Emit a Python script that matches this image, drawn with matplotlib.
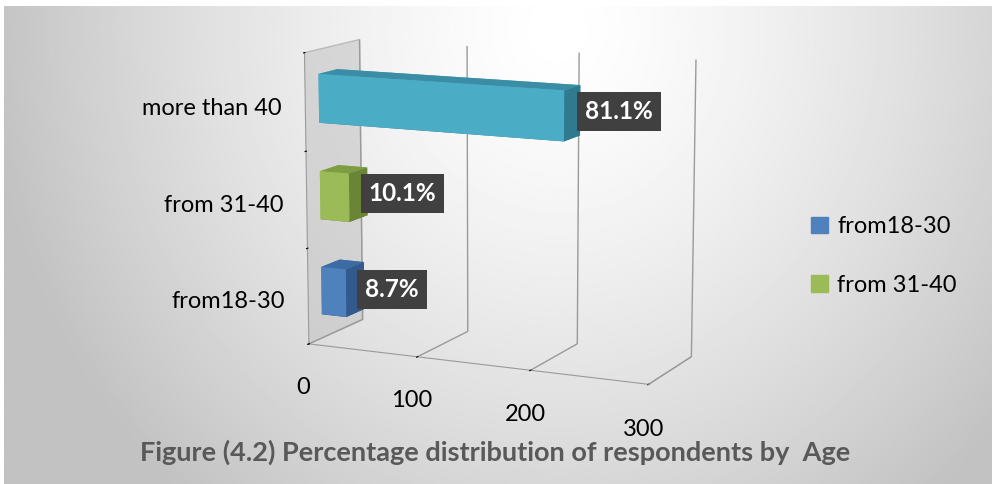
import numpy as np
import matplotlib.pyplot as plt
from matplotlib.patches import Patch
from mpl_toolkits.mplot3d import proj3d

# data
categories = ['from18-30', 'from 31-40', 'more than 40']
counts = [23, 27, 218]
pct_labels = ['8.7%', '10.1%', '81.1%']
legend_names = ['from18-30', 'from 31-40']
x_ticks = [0, 100, 200, 300]

# excel-like colours: (front, top, side)
colors = [('#4F81BD', '#3D6BA3', '#335A8C'),
          ('#9BBB59', '#7E9C41', '#6A8535'),
          ('#4BACC6', '#3A8DA5', '#2F7A8E')]

plt.rcParams['font.family'] = ['Lato', 'DejaVu Sans']

fig = plt.figure(figsize=(9.92, 4.84), dpi=100)

# radial grey background
bg = fig.add_axes([0.004, 0, 0.996, 0.988])
yy, xx = np.mgrid[0:1:240j, 0:1:480j]
r = np.sqrt(((xx - 0.56) / 0.58) ** 2 + ((yy - 0.95) / 1.3) ** 2)
bg.imshow(1 - 0.24 * np.clip(r, 0, 1) ** 1.4, cmap='gray', vmin=0, vmax=1,
          aspect='auto', extent=[0, 1, 0, 1], origin='lower')
bg.axis('off')

ax = fig.add_axes([0.176, 0.094, 0.64, 0.94], projection='3d', computed_zorder=False)
ax.set_facecolor('none')
ax.view_init(elev=11, azim=-65)
ax.set_box_aspect((3.62, 1.13, 2.91), zoom=1.05)

for i, v in enumerate(counts):
    front, top, side = colors[i]
    # faces: bottom, top, front, back, left, right
    ax.bar3d(0, 0.24, i + 0.25, v, 0.34, 0.5,
             color=[side, top, front, front, front, side], shade=False)

ax.set_xlim(0, 300)
ax.set_ylim(0, 1)
ax.set_zlim(0, 3)
ax.set_xticks(x_ticks)
ax.set_yticks([])
ax.set_zticks([0, 1, 2, 3], ['', '', '', ''])
ax.zaxis.set_ticks_position('lower')
ax.zaxis.set_tick_params(labelleft=False)
ax.tick_params(axis='x', labelsize=17, pad=10)
for a in (ax.xaxis, ax.yaxis, ax.zaxis):
    a.label.set_visible(False)
    a.offsetText.set_visible(False)

ax.xaxis.set_pane_color((0.76, 0.76, 0.76, 0.55))
ax.yaxis.set_pane_color((1, 1, 1, 0))
ax.zaxis.set_pane_color((1, 1, 1, 0))
for a in (ax.xaxis, ax.yaxis, ax.zaxis):
    a.pane.set_edgecolor('#9a9a9a')
    a.line.set_color('#9a9a9a')
    a._axinfo['grid']['color'] = '#9a9a9a'
    a._axinfo['grid']['linewidth'] = 1.0
    a._axinfo['tick']['color'] = '#9a9a9a'
ax.zaxis._axinfo['grid']['color'] = (1, 1, 1, 0)
ax.yaxis._axinfo['grid']['color'] = (1, 1, 1, 0)

# place labels at projected 3d points
fig.canvas.draw()
M = ax.get_proj()


def put(x, y, z, s, **kw):
    px, py, _ = proj3d.proj_transform(x, y, z, M)
    ax.text2D(px, py, s, transform=ax.transData, **kw)


for i, v in enumerate(counts):
    put(v + 18, 0.24, i + 0.56, pct_labels[i], color='white', fontsize=17.5,
        fontweight='bold', ha='left', va='center',
        bbox=dict(boxstyle='square,pad=0.33', fc='#404040', ec='none'))
    put(-22, 0, i + 0.42, categories[i], fontsize=17, ha='right', va='center')

fig.legend(handles=[Patch(color=colors[0][0], label=legend_names[0]),
                    Patch(color=colors[1][0], label=legend_names[1])],
           loc='center left', bbox_to_anchor=(0.818, 0.471), frameon=False,
           fontsize=17, labelspacing=1.6, handlelength=0.7, handleheight=0.7,
           handletextpad=0.4, borderaxespad=0, borderpad=0)

fig.text(0.499, 0.066, 'Figure (4.2) Percentage distribution of respondents by  Age',
         ha='center', va='center', fontsize=19.5, fontweight='bold', color='#595959')

fig.savefig('out.png', dpi=100)
